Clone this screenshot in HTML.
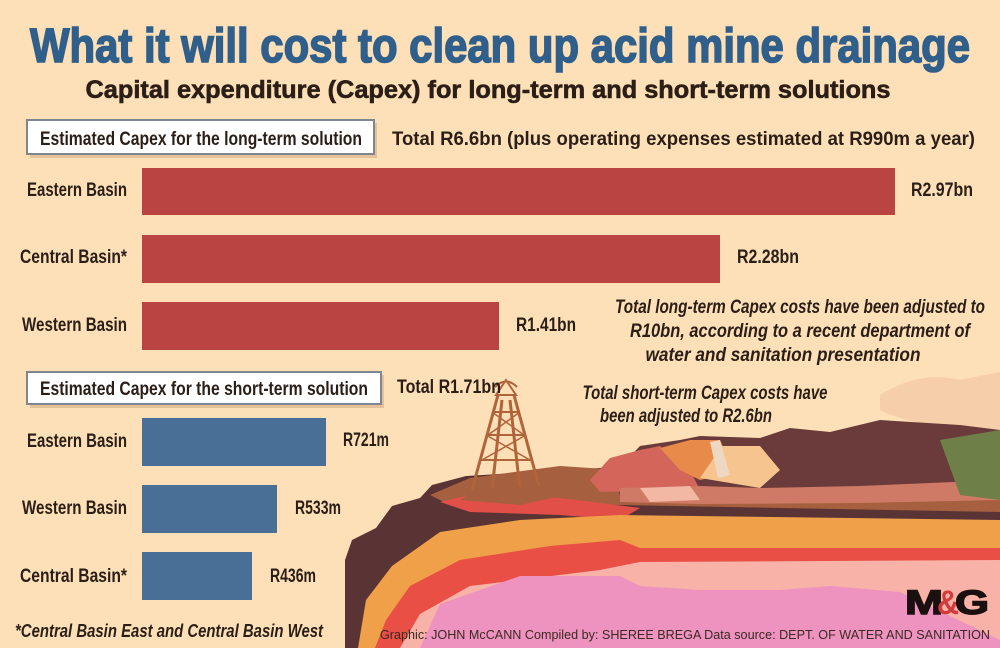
<!DOCTYPE html>
<html><head><meta charset="utf-8"><style>
html,body{margin:0;padding:0;background:#fde0b8;}
svg{display:block;font-family:"Liberation Sans",sans-serif;}
</style></head><body>
<svg width="1000" height="648" viewBox="0 0 1000 648" xmlns="http://www.w3.org/2000/svg">
<rect width="1000" height="648" fill="#fde0b8"/>
<path d="M880,395 Q920,370 960,380 Q1000,372 1000,372 L1000,440 Q960,430 930,425 Q900,420 880,410Z" fill="#f4c9a6" opacity="0.8"/>
<polygon points="345,560 352,540 376,528 392,506 420,498 432,485 466,476 600,468 1000,450 1000,648 345,648" fill="#5a3434"/>
<polygon points="430,495 470,478 560,466 620,470 1000,470 1000,512 620,505 450,505" fill="#a6603f"/>
<polygon points="615,472 640,446 680,440 700,436 760,438 790,428 830,432 880,420 960,425 1000,430 1000,500 620,496" fill="#6b3a3a"/>
<polygon points="590,480 610,458 640,450 660,446 690,470 700,490 600,492" fill="#d4655a"/>
<polygon points="660,448 690,440 720,440 735,472 700,480 680,470" fill="#e88a4a"/>
<polygon points="700,478 722,446 760,446 780,470 760,488" fill="#f6c48e"/>
<polygon points="710,442 720,440 730,475 718,478" fill="#eed8c2"/>
<polygon points="620,488 700,486 760,488 860,486 1000,480 1000,500 860,503 700,504 620,502" fill="#cf7a66"/>
<polygon points="640,488 690,486 700,500 650,502" fill="#f3b8a4"/>
<polygon points="940,440 1000,430 1000,500 960,495" fill="#6e8048"/>
<polygon points="440,502 470,495 560,498 600,503 640,508 620,520 560,515 470,512" fill="#e24e48"/>
<polygon points="358,648 366,600 392,566 440,532 520,520 620,515 1000,520 1000,648" fill="#f0a048"/>
<polygon points="375,648 386,620 410,586 460,560 550,546 620,540 640,548 1000,548 1000,648" fill="#e94f45"/>
<polygon points="400,648 420,614 470,586 600,570 640,562 1000,560 1000,648" fill="#f8b2a8"/>
<polygon points="420,648 440,604 520,576 620,576 640,586 700,590 780,590 830,586 900,592 1000,640 1000,648" fill="#ee92bf"/>
<g stroke="#b0643a" fill="none" stroke-width="3">
<line x1="472" y1="490" x2="498" y2="395"/><line x1="540" y1="490" x2="514" y2="395"/>
<line x1="492" y1="490" x2="502" y2="400"/><line x1="520" y1="490" x2="510" y2="400"/>
<line x1="480" y1="460" x2="532" y2="460" stroke-width="2"/><line x1="486" y1="435" x2="526" y2="435" stroke-width="2"/>
<line x1="492" y1="412" x2="520" y2="412" stroke-width="2"/>
<path d="M482,460 L526,435 M530,460 L486,435 M488,435 L520,412 M524,435 L492,412" stroke-width="1.5"/>
<path d="M496,395 L506,380 L516,395 Z M495,387 Q506,376 517,387" stroke-width="2"/>
</g>
<polygon points="460,500 480,488 540,486 560,496 520,505" fill="#a6603f"/>
<text x="500" y="62" text-anchor="middle" font-size="48" font-weight="bold" fill="#2f5f8a" stroke="#2f5f8a" stroke-width="1.6" textLength="940" lengthAdjust="spacingAndGlyphs">What it will cost to clean up acid mine drainage</text>
<text x="488" y="98" text-anchor="middle" font-size="25" font-weight="bold" fill="#2a1e17" stroke="#2a1e17" stroke-width="0.6" textLength="805" lengthAdjust="spacingAndGlyphs">Capital expenditure (Capex) for long-term and short-term solutions</text>
<rect x="30" y="123" width="347" height="35" fill="#d9b48c" opacity="0.7"/>
<rect x="27" y="120" width="347" height="34" fill="#fff" stroke="#7d8791" stroke-width="2"/>
<g font-weight="bold" fill="#2a1e17">
<text x="40" y="145" font-size="19" textLength="322" lengthAdjust="spacingAndGlyphs">Estimated Capex for the long-term solution</text>
<text x="392" y="145" font-size="19" textLength="583" lengthAdjust="spacingAndGlyphs">Total R6.6bn (plus operating expenses estimated at R990m a year)</text>
</g>
<g fill="#b94442"><rect x="142" y="168" width="753" height="47"/><rect x="142" y="235" width="578" height="48"/><rect x="142" y="302" width="357" height="48"/></g>
<g font-size="19" font-weight="bold" fill="#2a1e17">
<text x="127" y="196" text-anchor="end" textLength="100" lengthAdjust="spacingAndGlyphs">Eastern Basin</text>
<text x="127" y="263" text-anchor="end" textLength="107" lengthAdjust="spacingAndGlyphs">Central Basin*</text>
<text x="127" y="331" text-anchor="end" textLength="105" lengthAdjust="spacingAndGlyphs">Western Basin</text>
<text x="127" y="447" text-anchor="end" textLength="100" lengthAdjust="spacingAndGlyphs">Eastern Basin</text>
<text x="127" y="514" text-anchor="end" textLength="105" lengthAdjust="spacingAndGlyphs">Western Basin</text>
<text x="127" y="582" text-anchor="end" textLength="107" lengthAdjust="spacingAndGlyphs">Central Basin*</text>
<text x="911" y="196" textLength="62" lengthAdjust="spacingAndGlyphs">R2.97bn</text>
<text x="737" y="263" textLength="62" lengthAdjust="spacingAndGlyphs">R2.28bn</text>
<text x="516" y="331" textLength="60" lengthAdjust="spacingAndGlyphs">R1.41bn</text>
<text x="343" y="446" textLength="46" lengthAdjust="spacingAndGlyphs">R721m</text>
<text x="295" y="514" textLength="46" lengthAdjust="spacingAndGlyphs">R533m</text>
<text x="270" y="582" textLength="46" lengthAdjust="spacingAndGlyphs">R436m</text>
<text x="397" y="393" textLength="104" lengthAdjust="spacingAndGlyphs">Total R1.71bn</text>
</g>
<g font-size="19" font-weight="bold" font-style="italic" fill="#2a1e17" text-anchor="middle">
<text x="800" y="313" textLength="370" lengthAdjust="spacingAndGlyphs">Total long-term Capex costs have been adjusted to</text>
<text x="800" y="337" textLength="340" lengthAdjust="spacingAndGlyphs">R10bn, according to a recent department of</text>
<text x="783" y="361" textLength="275" lengthAdjust="spacingAndGlyphs">water and sanitation presentation</text>
<text x="705" y="399" textLength="245" lengthAdjust="spacingAndGlyphs">Total short-term Capex costs have</text>
<text x="686" y="422" textLength="172" lengthAdjust="spacingAndGlyphs">been adjusted to R2.6bn</text>
</g>
<rect x="30" y="375" width="354" height="33" fill="#d9b48c" opacity="0.7"/>
<rect x="27" y="372" width="354" height="32" fill="#fff" stroke="#7d8791" stroke-width="2"/>
<text x="40" y="395" font-size="19" font-weight="bold" fill="#2a1e17" textLength="328" lengthAdjust="spacingAndGlyphs">Estimated Capex for the short-term solution</text>
<g fill="#4a6f97"><rect x="142" y="418" width="184" height="48"/><rect x="142" y="485" width="135" height="48"/><rect x="142" y="552" width="110" height="48"/></g>
<text x="15" y="637" font-size="18" font-weight="bold" font-style="italic" fill="#2a1e17" textLength="308" lengthAdjust="spacingAndGlyphs">*Central Basin East and Central Basin West</text>
<text x="380" y="639" font-size="13" fill="#3a2a22" textLength="610" lengthAdjust="spacingAndGlyphs">Graphic: JOHN McCANN  Compiled by: SHEREE BREGA  Data source: DEPT. OF WATER AND SANITATION</text>
<text x="905" y="614" font-size="34" font-weight="bold" fill="#1a1010" stroke="#1a1010" stroke-width="1.5" textLength="38" lengthAdjust="spacingAndGlyphs">M</text>
<text x="937" y="614" font-size="34" font-weight="bold" fill="#d33a3a" textLength="22" lengthAdjust="spacingAndGlyphs">&amp;</text>
<text x="955" y="614" font-size="34" font-weight="bold" fill="#1a1010" stroke="#1a1010" stroke-width="1.5" textLength="34" lengthAdjust="spacingAndGlyphs">G</text>
</svg>
</body></html>
